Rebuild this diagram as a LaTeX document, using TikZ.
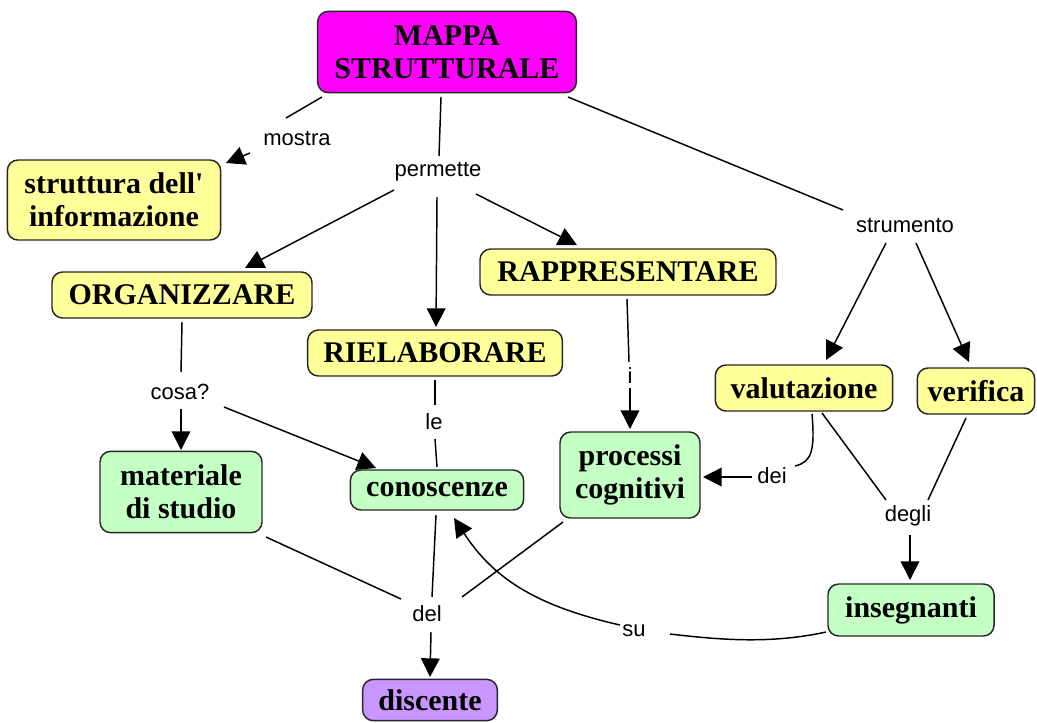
\documentclass[tikz,border=0pt]{standalone}
\usepackage{fontspec}
\setmainfont{Liberation Serif}[Ligatures=TeXOff]
\newfontfamily\lblfont{Liberation Sans}
\usetikzlibrary{calc,arrows.meta}
\definecolor{cyellow}{RGB}{255,255,153}
\definecolor{cgreen}{RGB}{196,255,196}
\definecolor{cmag}{RGB}{255,0,255}
\definecolor{cpurple}{RGB}{200,150,255}
\begin{document}
\begin{tikzpicture}[x=0.75pt,y=-0.75pt,
 box/.style={draw=black!85, line width=1.1pt, rounded corners=8pt, font=\fontsize{22.5}{25}\selectfont\bfseries, align=center, inner sep=0pt},
 ybox/.style={box, fill=cyellow, minimum height=34.5pt},
 gbox/.style={box, fill=cgreen},
 lbl/.style={font=\lblfont\fontsize{16.5}{18}\selectfont, inner sep=1pt},
 conn/.style={line width=1.1pt},
 arr/.style={conn, -{Triangle[length=14pt,width=14pt]}}]
\useasboundingbox (0,0) rectangle (1037,722);
% boxes
\node[box, fill=cmag, minimum width=194pt, minimum height=61pt] (mappa) at (447,52) {MAPPA\\STRUTTURALE};
\node[ybox, minimum width=160pt, minimum height=60pt] (struttura) at (114,200) {struttura dell'\\informazione};
\node[ybox, minimum width=195pt] (organizzare) at (182,295) {ORGANIZZARE};
\node[ybox, minimum width=222pt] (rappresentare) at (628,272) {RAPPRESENTARE};
\node[ybox, minimum width=191pt] (rielaborare) at (435,353) {RIELABORARE};
\node[ybox, minimum width=133pt] (valutazione) at (804,388) {valutazione};
\node[ybox, minimum width=88pt] (verifica) at (976,391) {verifica};
\node[gbox, minimum width=121.5pt, minimum height=61pt] (materiale) at (181,492) {materiale\\di studio};
\node[gbox, minimum width=130pt, minimum height=30pt] (conoscenze) at (437,490) {conoscenze};
\node[gbox, minimum width=105pt, minimum height=64.5pt] (processi) at (630,475) {processi\\cognitivi};
\node[gbox, minimum width=124.5pt, minimum height=39pt] (insegnanti) at (911,610) {insegnanti};
\node[box, fill=cpurple, minimum width=101pt, minimum height=31pt] (discente) at (430,700) {discente};
% labels
\node[lbl] (mostra) at (297,138) {mostra};
\node[lbl] (permette) at (438,172) {permette};
\node[lbl] (strumento) at (905,225) {strumento};
\node[lbl] (cosa) at (180,392) {cosa?};
\node[lbl] (le) at (434,422) {le};
\node[lbl] (i) at (630,376) {i};
\node[lbl] (dei) at (772,476) {dei};
\node[lbl] (degli) at (908,516) {degli};
\node[lbl] (del) at (427,614) {del};
\node[lbl] (su) at (634,631) {su};
% connectors
\draw[conn] ($(mappa)+(-125,45)$) -- ($(mostra)+(-11,-20)$);
\draw[arr] ($(mostra)+(-47,15)$) -- ($(struttura)+(112,-37)$);
\draw[conn] ($(mappa)+(-6,45)$) -- ($(permette)+(1,-16)$);
\draw[conn] ($(mappa)+(121,45)$) -- ($(strumento)+(-62,-15)$);
\draw[arr] ($(permette)+(-44,18)$) -- ($(organizzare)+(63,-27)$);
\draw[arr] ($(permette)+(-1,25)$) -- ($(rielaborare)+(1,-26)$);
\draw[arr] ($(permette)+(38,22)$) -- ($(rappresentare)+(-51,-27)$);
\draw[arr] ($(strumento)+(-19,18)$) -- ($(valutazione)+(22,-28)$);
\draw[arr] ($(strumento)+(11,18)$) -- ($(verifica)+(-7,-29)$);
\draw[conn] ($(organizzare)+(0,27)$) -- ($(cosa)+(1,-20)$);
\draw[arr] ($(cosa)+(1,17)$) -- ($(materiale)+(0,-42)$);
\draw[arr] ($(cosa)+(44,15)$) -- ($(conoscenze)+(-61,-22)$);
\draw[conn] ($(rielaborare)+(0,27)$) -- ($(le)+(1,-17)$);
\draw[conn] ($(le)+(1,17)$) -- ($(conoscenze)+(0,-23)$);
\draw[conn] ($(rappresentare)+(-1,27)$) -- ($(i)+(-1,-14)$);
\draw[arr] ($(i)+(0,12)$) -- ($(processi)+(0,-46)$);
\draw[conn] ($(valutazione)+(8,26)$) .. controls ($(valutazione)+(11,62)$) and ($(valutazione)+(8,74)$) .. ($(dei)+(23,-10)$);
\draw[arr] ($(dei)+(-20,1)$) -- ($(processi)+(73,2)$);
\draw[conn] ($(valutazione)+(18,25)$) -- ($(degli)+(-22,-16)$);
\draw[conn] ($(verifica)+(-10,27)$) -- ($(degli)+(20,-16)$);
\draw[arr] ($(degli)+(2,19)$) -- ($(insegnanti)+(-1,-30)$);
\draw[conn] ($(materiale)+(85,45)$) -- ($(del)+(-26,-15)$);
\draw[conn] ($(conoscenze)+(-1,25)$) -- ($(del)+(5,-17)$);
\draw[conn] ($(processi)+(-67,47)$) -- ($(del)+(35,-17)$);
\draw[arr] ($(del)+(4,18)$) -- ($(discente)+(0,-23)$);
\draw[conn] ($(insegnanti)+(-85,22)$) .. controls ($(insegnanti)+(-140,34)$) and ($(insegnanti)+(-190,30)$) .. ($(su)+(36,3)$);
\draw[arr] ($(su)+(-14,-6)$) .. controls ($(su)+(-102,-26)$) and ($(su)+(-142,-55)$) .. ($(conoscenze)+(17,28)$);
\end{tikzpicture}
\end{document}
